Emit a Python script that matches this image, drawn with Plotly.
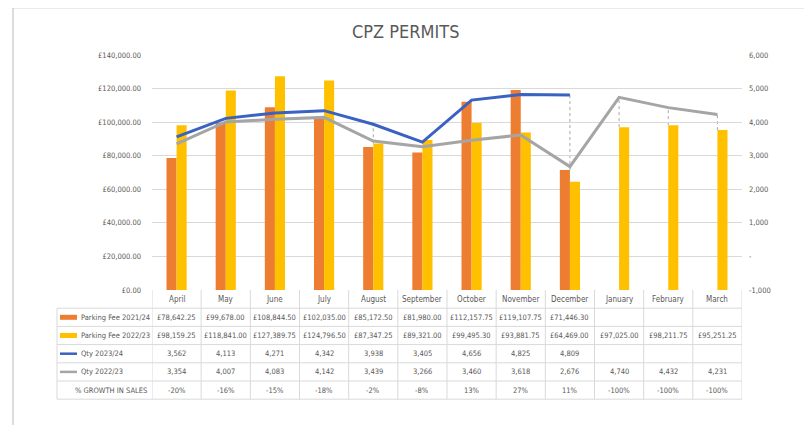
import plotly.graph_objects as go

months = ["April", "May", "June", "July", "August", "September", "October",
          "November", "December", "January", "February", "March"]
fee_2324 = [78642.25, 99678.00, 108844.50, 102035.00, 85172.50, 81980.00,
            112157.75, 119107.75, 71446.30]
fee_2223 = [98159.25, 118841.00, 127389.75, 124796.50, 87347.25, 89321.00,
            99495.30, 93881.75, 64469.00, 97025.00, 98211.75, 95251.25]
qty_2324 = [3562, 4113, 4271, 4342, 3938, 3405, 4656, 4825, 4809]
qty_2223 = [3354, 4007, 4083, 4142, 3439, 3266, 3460, 3618, 2676, 4740, 4432, 4231]
growth = ["-20%", "-16%", "-15%", "-18%", "-2%", "-8%", "13%", "27%", "11%",
          "-100%", "-100%", "-100%"]

ORANGE = "#ED7D31"
YELLOW = "#FFC000"
BLUE = "#3A62C2"
GREY = "#A5A5A5"
GRID = "#D9D9D9"
TXT = "#595959"
FONT = "DejaVu Sans Condensed, Liberation Sans, Arial"

# page body has an 8px margin, so the figure is 8px smaller on each side
OFF = 8
W, H = 812 - OFF, 425 - OFF
L, R, T, B = 152, 742, 55, 290   # plot area in window pixels


def px(x):
    return (x - L) / (R - L)


def py(y):
    return (B - y) / (B - T)


fig = go.Figure()

fig.add_trace(go.Bar(x=months[:len(fee_2324)], y=fee_2324, name="Parking Fee 2023/24",
                     marker=dict(color=ORANGE, line_width=0), offsetgroup="a"))
fig.add_trace(go.Bar(x=months, y=fee_2223, name="Parking Fee 2022/23",
                     marker=dict(color=YELLOW, line_width=0), offsetgroup="b"))
fig.add_trace(go.Scatter(x=months[:len(qty_2324)], y=qty_2324, name="Qty 2023/24",
                         mode="lines", line=dict(color=BLUE, width=3), yaxis="y2"))
fig.add_trace(go.Scatter(x=months, y=qty_2223, name="Qty 2022/23",
                         mode="lines", line=dict(color=GREY, width=3), yaxis="y2"))

shapes = []
annotations = []

# drop lines from the highest qty point down to the bars (y2 scale: fee / 20 - 1000)
for i, m in enumerate(months):
    q = qty_2223[i]
    fee_top = fee_2223[i]
    if i < len(qty_2324):
        q = max(q, qty_2324[i])
        fee_top = max(fee_top, fee_2324[i])
    bar_top = fee_top / 20 - 1000
    if q > bar_top:
        shapes.append(dict(type="line", xref="x", yref="y2", x0=i, x1=i, y0=bar_top, y1=q,
                           layer="below", line=dict(color="#A6A6A6", width=1, dash="dot")))

# data table below the plot
row_h = 18.2
table_top = B
label_left = 57
rows = [
    ("Parking Fee 2021/24", "bar", ORANGE, [f"£{v:,.2f}" for v in fee_2324]),
    ("Parking Fee 2022/23", "bar", YELLOW, [f"£{v:,.2f}" for v in fee_2223]),
    ("Qty 2023/24", "line", BLUE, [f"{v:,}" for v in qty_2324]),
    ("Qty 2022/23", "line", GREY, [f"{v:,}" for v in qty_2223]),
    ("% GROWTH IN SALES", None, None, growth),
]
n_rows = len(rows) + 1
bottom = table_top + n_rows * row_h
for k in range(1, n_rows + 1):
    y = table_top + k * row_h
    shapes.append(dict(type="line", xref="paper", yref="paper",
                       x0=px(label_left), x1=px(R), y0=py(y), y1=py(y),
                       line=dict(color=GRID, width=1)))
for i in range(len(months) + 1):
    shapes.append(dict(type="line", xref="x", yref="paper", x0=i - 0.5, x1=i - 0.5,
                       y0=py(table_top), y1=py(bottom), line=dict(color=GRID, width=1)))
shapes.append(dict(type="line", xref="paper", yref="paper", x0=px(label_left), x1=px(label_left),
                   y0=py(table_top + row_h), y1=py(bottom), line=dict(color=GRID, width=1)))

cell_font = dict(size=7.5, color=TXT, family=FONT)
for r, (label, kind, col, vals) in enumerate(rows):
    yc = table_top + (r + 1.5) * row_h
    if kind == "bar":
        shapes.append(dict(type="rect", xref="paper", yref="paper", line_width=0, fillcolor=col,
                           x0=px(60), x1=px(77), y0=py(yc + 2.5), y1=py(yc - 2.5)))
    elif kind == "line":
        shapes.append(dict(type="line", xref="paper", yref="paper", line=dict(color=col, width=2.5),
                           x0=px(60), x1=px(77), y0=py(yc), y1=py(yc)))
    if kind:
        annotations.append(dict(text=label, xref="paper", yref="paper", x=px(79), y=py(yc),
                                xanchor="left", yanchor="middle", showarrow=False, font=cell_font))
    else:
        annotations.append(dict(text=label, xref="paper", yref="paper", x=px(149), y=py(yc),
                                xanchor="right", yanchor="middle", showarrow=False, font=cell_font))
    for m, v in zip(months, vals):
        annotations.append(dict(text=v, xref="x", yref="paper", x=m, y=py(yc),
                                xanchor="center", yanchor="middle", showarrow=False, font=cell_font))

# month header row
for m in months:
    annotations.append(dict(text=m, xref="x", yref="paper", x=m, y=py(table_top + row_h / 2),
                            xanchor="center", yanchor="middle", showarrow=False,
                            font=dict(size=8, color=TXT, family=FONT)))

# chart frame lines
shapes.append(dict(type="line", xref="paper", yref="paper", x0=px(12), x1=px(812), y0=py(8), y1=py(8),
                   line=dict(color="#E3E3E3", width=1.5)))
shapes.append(dict(type="line", xref="paper", yref="paper", x0=px(13), x1=px(13), y0=py(8), y1=py(425),
                   line=dict(color="#D0D0D0", width=1.5)))

annotations.append(dict(text="CPZ PERMITS", xref="paper", yref="paper", x=px(405), y=py(31),
                        xanchor="center", yanchor="middle", showarrow=False,
                        font=dict(size=18, color=TXT, family=FONT)))

fig.update_layout(
    width=W, height=H,
    margin=dict(l=L - OFF, r=W - (R - OFF), t=T - OFF, b=H - (B - OFF)),
    paper_bgcolor="white", plot_bgcolor="white",
    barmode="group", bargap=0.59, bargroupgap=0,
    showlegend=False,
    font=dict(family=FONT, color=TXT, size=8),
    xaxis=dict(type="category", categoryorder="array", categoryarray=months,
               range=[-0.5, 11.5], showticklabels=False, showgrid=False, zeroline=False,
               showline=False, fixedrange=True),
    yaxis=dict(range=[0, 140000], dtick=20000, tickprefix="£", tickformat=",.2f",
               showgrid=True, gridcolor=GRID, gridwidth=1, zeroline=False,
               tickfont=dict(size=7.5, color=TXT), ticks="", ticklabelstandoff=10),
    yaxis2=dict(overlaying="y", side="right", range=[-1000, 6000],
                tickvals=[-1000, 0, 1000, 2000, 3000, 4000, 5000, 6000],
                ticktext=["-1,000", "-", "1,000", "2,000", "3,000", "4,000", "5,000", "6,000"],
                showgrid=False, zeroline=False, tickfont=dict(size=7.5, color=TXT),
                ticklabelstandoff=6),
    shapes=shapes,
    annotations=annotations,
)

fig.write_html("out.html")
